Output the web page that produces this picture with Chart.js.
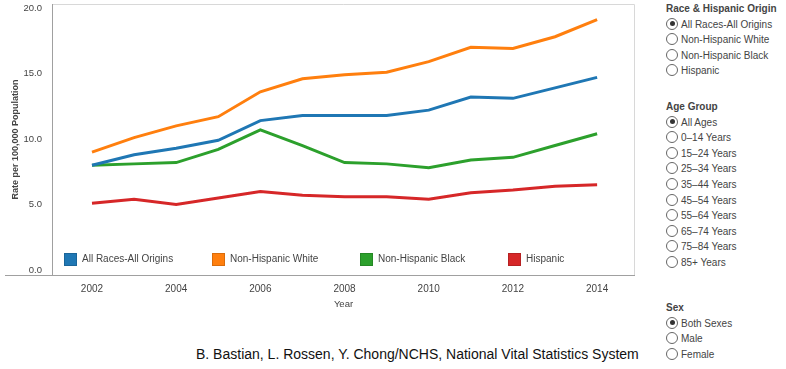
<!DOCTYPE html>
<html>
<head>
<meta charset="utf-8">
<script src="https://cdn.jsdelivr.net/npm/chart.js@4/dist/chart.umd.min.js"></script>
<style>
    body { margin: 0; background: #fff; font-family: "Liberation Sans", Arial, sans-serif; }
    #wrap { position: relative; width: 786px; height: 369px; overflow: hidden; }
    #box { position: absolute; left: 0; top: 0; width: 640px; height: 310px; }
    .panel { position: absolute; left: 666px; font-size: 10px; color: #444; }
    .panel h4 { margin: 0; height: 15.6px; line-height: 15.6px; font-size: 10px; font-weight: bold; color: #444; }
    .opt { height: 15.6px; line-height: 15.6px; white-space: nowrap; }
    .opt i { display: inline-block; width: 10px; height: 10px; border: 1px solid #666; border-radius: 50%;
             vertical-align: -2px; margin-right: 3px; position: relative; background: #fff; }
    .opt.on i::after { content: ""; position: absolute; left: 2.5px; top: 2.5px; width: 5px; height: 5px;
             border-radius: 50%; background: #333; }
    #source { position: absolute; left: 196px; top: 346px; font-size: 14px; color: #111; white-space: nowrap; }
</style>
</head>
<body>
<div id="wrap">
    <div id="box"><canvas id="myChart"></canvas></div>
    <div class="panel" style="top:1px" id="raceBox"></div>
    <div class="panel" style="top:99px" id="ageBox"></div>
    <div class="panel" style="top:300px" id="sexBox"></div>
    <div id="source">B. Bastian, L. Rossen, Y. Chong/NCHS, National Vital Statistics System</div>
</div>
<script>
const years = [2002, 2003, 2004, 2005, 2006, 2007, 2008, 2009, 2010, 2011, 2012, 2013, 2014];
const allRaces = [8.0, 8.8, 9.3, 9.9, 11.4, 11.8, 11.8, 11.8, 12.2, 13.2, 13.1, 13.9, 14.7];
const nhWhite = [9.0, 10.1, 11.0, 11.7, 13.6, 14.6, 14.9, 15.1, 15.9, 17.0, 16.9, 17.8, 19.1];
const nhBlack = [8.0, 8.1, 8.2, 9.2, 10.7, 9.5, 8.2, 8.1, 7.8, 8.4, 8.6, 9.5, 10.4];
const hispanic = [5.1, 5.4, 5.0, 5.5, 6.0, 5.7, 5.6, 5.6, 5.4, 5.9, 6.1, 6.4, 6.5];
const xTicks = [2002, 2004, 2006, 2008, 2010, 2012, 2014];
const yTicks = [0, 5, 10, 15, 20];

const raceOpts = ['All Races-All Origins', 'Non-Hispanic White', 'Non-Hispanic Black', 'Hispanic'];
const ageOpts = ['All Ages', '0–14 Years', '15–24 Years', '25–34 Years', '35–44 Years', '45–54 Years',
    '55–64 Years', '65–74 Years', '75–84 Years', '85+ Years'];
const sexOpts = ['Both Sexes', 'Male', 'Female'];

const colors = ['#1f77b4', '#ff7f0e', '#2ca02c', '#d62728'];
const seriesNames = ['All Races-All Origins', 'Non-Hispanic White', 'Non-Hispanic Black', 'Hispanic'];
const seriesData = [allRaces, nhWhite, nhBlack, hispanic];

// filter panel on the right
const fillPanel = (id, title, opts) => {
    let html = `<h4>${title}</h4>`;
    opts.forEach((o, i) => {
        html += `<div class="opt${i === 0 ? ' on' : ''}"><i></i>${o}</div>`;
    });
    document.getElementById(id).innerHTML = html;
}
fillPanel('raceBox', 'Race &amp; Hispanic Origin', raceOpts);
fillPanel('ageBox', 'Age Group', ageOpts);
fillPanel('sexBox', 'Sex', sexOpts);

// frame + legend drawn inside the plot like the original
const framePlugin = {
    id: 'frame',
    beforeDatasetsDraw(chart) {
        const { ctx, chartArea: a } = chart;
        ctx.save();
        ctx.strokeStyle = '#d8d8d8';
        ctx.lineWidth = 1;
        ctx.beginPath();
        ctx.moveTo(a.left, a.top + 0.5);
        ctx.lineTo(a.right - 0.5, a.top + 0.5);
        ctx.lineTo(a.right - 0.5, a.bottom);
        ctx.stroke();
        ctx.strokeStyle = '#a0a0a0';
        ctx.beginPath();
        ctx.moveTo(a.left + 0.5, a.top);
        ctx.lineTo(a.left + 0.5, a.bottom);
        ctx.moveTo(5, a.bottom + 0.5);
        ctx.lineTo(a.right, a.bottom + 0.5);
        ctx.stroke();
        ctx.restore();
    },
    afterDatasetsDraw(chart) {
        const { ctx, chartArea: a } = chart;
        ctx.save();
        ctx.font = '10px "Liberation Sans", Arial, sans-serif';
        ctx.textBaseline = 'middle';
        const cy = a.bottom - 16;
        seriesNames.forEach((name, i) => {
            const x = a.left + 12 + i * 148;
            ctx.fillStyle = colors[i];
            ctx.fillRect(x, cy - 6, 13, 13);
            ctx.strokeStyle = 'rgba(0,0,0,0.15)';
            ctx.strokeRect(x + 0.5, cy - 5.5, 12, 12);
            ctx.fillStyle = '#444';
            ctx.fillText(name, x + 18, cy + 0.5);
        });
        ctx.restore();
    }
};

const chartData = {
    datasets: seriesNames.map((name, i) => ({
        label: name,
        data: years.map((y, j) => ({ x: y, y: seriesData[i][j] })),
        borderColor: colors[i],
        backgroundColor: colors[i],
        borderWidth: 3,
        pointRadius: 0,
        tension: 0,
    }))
};

const config = {
    type: 'line',
    data: chartData,
    options: {
        responsive: true,
        maintainAspectRatio: false,
        animation: false,
        layout: { padding: { top: 4, right: 5, left: 0, bottom: 0 } },
        plugins: {
            legend: { display: false },
            tooltip: { enabled: false },
        },
        scales: {
            x: {
                type: 'linear',
                min: 2001.05,
                max: 2014.9,
                afterBuildTicks: s => { s.ticks = xTicks.map(v => ({ value: v })); },
                afterFit: s => { s.height = 35; s.paddingLeft = 0; s.paddingRight = 0; },
                grid: { display: false, drawTicks: false },
                border: { display: false },
                ticks: {
                    padding: 8,
                    color: '#444',
                    font: { size: 10, family: '"Liberation Sans", Arial, sans-serif' },
                    callback: v => String(v),
                },
                title: {
                    display: true,
                    text: 'Year',
                    color: '#444',
                    padding: 0,
                    font: { size: 9.5, family: '"Liberation Sans", Arial, sans-serif' },
                },
            },
            y: {
                min: -0.38,
                max: 20.3,
                afterBuildTicks: s => { s.ticks = yTicks.map(v => ({ value: v })); },
                afterFit: s => { s.width = 52; s.paddingTop = 0; s.paddingBottom = 0; },
                grid: { display: false, drawTicks: false },
                border: { display: false },
                ticks: {
                    padding: 10,
                    color: '#444',
                    font: { size: 9.5, family: '"Liberation Sans", Arial, sans-serif' },
                    callback: v => v.toFixed(1),
                },
                title: {
                    display: true,
                    text: 'Rate per 100,000 Population',
                    color: '#444',
                    padding: { top: 10, bottom: 0 },
                    font: { size: 9, weight: 'bold', family: '"Liberation Sans", Arial, sans-serif' },
                },
            }
        }
    },
    plugins: [framePlugin],
};

const myChart = new Chart(document.getElementById('myChart'), config);
</script>
</body>
</html>
